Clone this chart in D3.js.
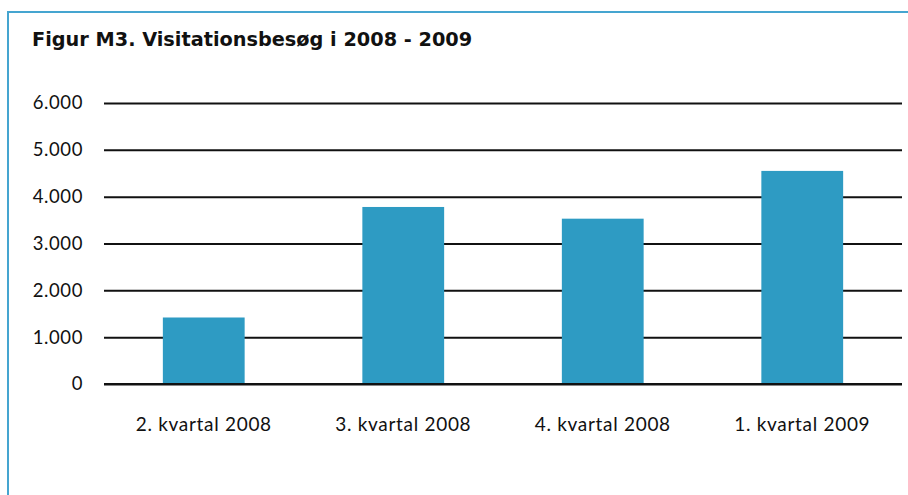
<!DOCTYPE html>
<html>
<head>
<meta charset="utf-8">
<script src="https://cdn.jsdelivr.net/npm/d3@7"></script>
<style>
  body { margin: 0; background: #fff; }
  svg text { fill: #111; }
</style>
</head>
<body>
<div id="chart-area"></div>
<script>
// Data
var quarters = ["2. kvartal 2008", "3. kvartal 2008", "4. kvartal 2008", "1. kvartal 2009"];
var visits = [1420, 3780, 3530, 4550];
var yTicks = [0, 1000, 2000, 3000, 4000, 5000, 6000];
var yTickLabels = ["0", "1.000", "2.000", "3.000", "4.000", "5.000", "6.000"];

var W = 908, H = 495;
var margin = { left: 104, right: 6, top: 103, bottom: 111 };
var width = W - margin.left - margin.right,
	height = H - margin.top - margin.bottom;

var svg = d3.select("#chart-area")
	.append("svg")
	.attr("width", W)
	.attr("height", H);

// frame
svg.append("rect")
	.attr("x", 8)
	.attr("y", 12)
	.attr("width", 1000)
	.attr("height", 1000)
	.attr("fill", "none")
	.attr("stroke", "#45a5d0")
	.attr("stroke-width", 2);

// title
svg.append("text")
	.attr("x", 32)
	.attr("y", 46)
	.style("font-size", "19.3px")
	.style("font-family", "'DejaVu Sans', sans-serif")
	.style("font-weight", "bold")
	.text("Figur M3. Visitationsbesøg i 2008 - 2009");

var g = svg.append("g")
	.attr("transform", "translate(" + margin.left + "," + margin.top + ")");

// Scales
var x = d3.scaleBand()
	.domain(quarters)
	.range([0, width])
	.paddingInner(0.59)
	.paddingOuter(0.295);

var y = d3.scaleLinear()
	.domain([0, 6000])
	.range([height, 0]);

// gridlines
var yAxis = d3.axisLeft(y)
	.tickValues(yTicks)
	.tickSize(-width)
	.tickPadding(21)
	.tickFormat(function (d, i) { return yTickLabels[i]; });

var yg = g.append("g")
	.attr("class", "y-axis")
	.call(yAxis);
yg.select(".domain").remove();
yg.selectAll("line")
	.attr("stroke", "#111")
	.attr("stroke-width", 2);
yg.selectAll("text")
	.style("font-size", "18.5px")
	.style("font-family", "Lato, sans-serif")
	.style("letter-spacing", "0.6px")
	.attr("fill", "#111");

// bars
g.selectAll("rect.bar")
	.data(visits)
	.enter()
	.append("rect")
	.attr("class", "bar")
	.attr("x", function (d, i) { return x(quarters[i]); })
	.attr("y", function (d) { return y(d); })
	.attr("width", x.bandwidth())
	.attr("height", function (d) { return height - y(d); })
	.attr("fill", "#2e9bc3");

// baseline over bars
g.append("line")
	.attr("x1", 0)
	.attr("x2", width)
	.attr("y1", y(0))
	.attr("y2", y(0))
	.attr("stroke", "#111")
	.attr("stroke-width", 2);

// X axis labels
var xAxis = d3.axisBottom(x)
	.tickSize(0)
	.tickPadding(34);

var xg = g.append("g")
	.attr("class", "x-axis")
	.attr("transform", "translate(0," + height + ")")
	.call(xAxis);
xg.select(".domain").remove();
xg.selectAll("text")
	.style("font-size", "19px")
	.style("font-family", "Lato, sans-serif")
	.style("letter-spacing", "0.7px")
	.attr("fill", "#111");
</script>
</body>
</html>
